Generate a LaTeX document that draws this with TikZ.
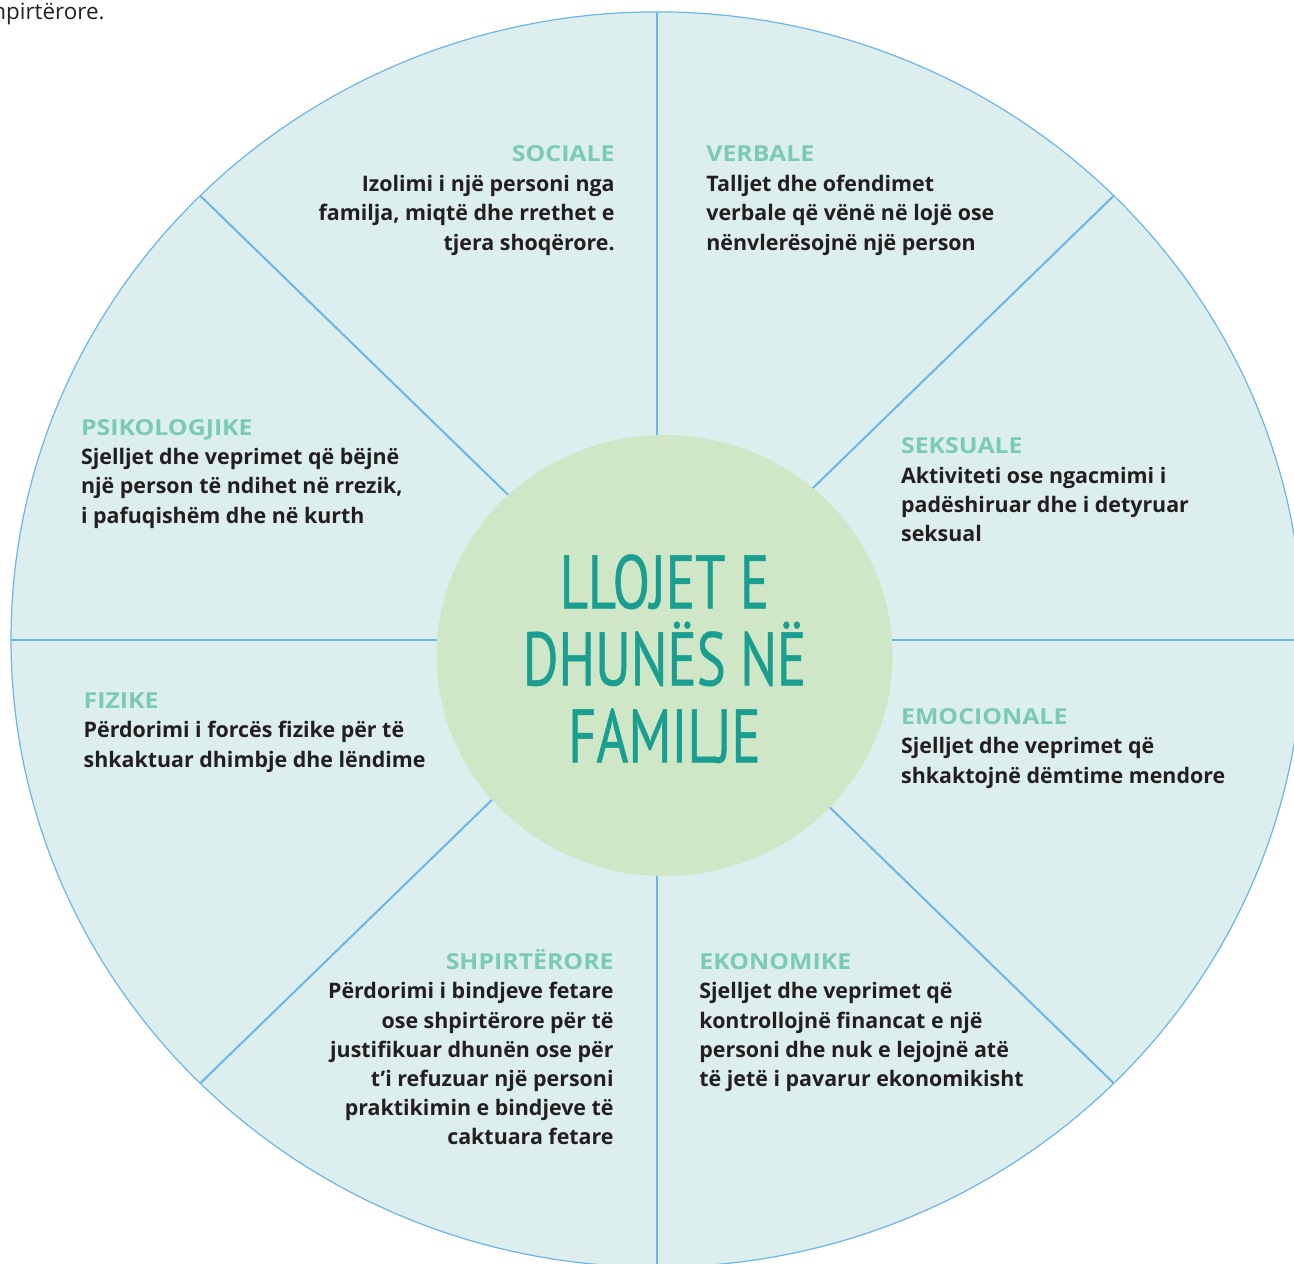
\documentclass[tikz,border=0pt]{standalone}
\usepackage{fontspec}
\setmainfont{Open Sans}
\newfontfamily\headfamily[FakeStretch=1.13]{Open Sans}
\newfontfamily\titlefamily[FakeStretch=0.72,FakeBold=0.6]{PT Sans}
\usetikzlibrary{positioning}
\definecolor{ringfill}{HTML}{DCEFEE}
\definecolor{spoke}{HTML}{6CB5E5}
\definecolor{hubfill}{HTML}{CFE6C7}
\definecolor{titlecol}{HTML}{1A9E8F}
\definecolor{headcol}{HTML}{7BCAB5}
\definecolor{bodycol}{HTML}{231F20}
\newcommand{\headfont}{\headfamily\bfseries\fontsize{11}{14.6}\selectfont}
\newcommand{\bodyfont}{\bfseries\fontsize{10.7}{14.6}\selectfont}
\newcommand{\titlefont}{\titlefamily\fontsize{37.9}{38.5}\selectfont\lineskiplimit=-100pt}
\tikzset{
    spokeline/.style = {draw=spoke, line width=1pt},
    head/.style = {font=\headfont, text=headcol, inner sep=0pt},
    textl/.style = {font=\bodyfont, text=bodycol, inner sep=0pt, align=left},
    textr/.style = {font=\bodyfont, text=bodycol, inner sep=0pt, align=right},
    pagetext/.style = {font=\fontsize{11.2}{14}\selectfont, text=bodycol, inner sep=0pt}
}

\begin{document}
\begin{tikzpicture}[x=0.5pt, y=-0.5pt]
    \useasboundingbox (0,0) rectangle (1294,1263);
    \clip (0,0) rectangle (1294,1263);
    % end of the paragraph above the wheel
    \node [pagetext, anchor=base east] (prev) at (105,20) {shpirtërore.};
    % the wheel
    \path [fill=ringfill, draw=spoke, line width=0.6pt] (657,639.5) ellipse [x radius=646, y radius=627.6];
    \coordinate (rimN)  at (657,12);
    \coordinate (rimS)  at (657,1270);
    \coordinate (rimW)  at (11,640);
    \coordinate (rimE)  at (1303,640);
    \coordinate (rimNW) at (200.2,195.7);
    \coordinate (rimSE) at (1113.8,1083.3);
    \coordinate (rimNE) at (1113.8,195.7);
    \coordinate (rimSW) at (200.2,1083.3);
    \draw [spokeline] (rimN) -- (rimS);
    \draw [spokeline] (rimW) -- (rimE);
    \draw [spokeline] (rimNW) -- (rimSE);
    \draw [spokeline] (rimNE) -- (rimSW);
    \fill [hubfill] (664.5,655.5) ellipse [x radius=228, y radius=220.5];
    \node [font=\titlefont, text=titlecol, align=center, inner sep=0pt, anchor=north] (title) at (664.5,554) {\rule{0pt}{26.95pt}LLOJET E\\DHUNËS NË\\FAMILJE};

    % the eight kinds
    \node [head, anchor=base east] (sociale) at (615,162) {SOCIALE};
    \node [textr, below=4.4pt of sociale.base east, anchor=north east] (socialetxt) {\strut Izolimi i një personi nga\\familja, miqtë dhe rrethet e\\tjera shoqërore.};
    \node [head, anchor=base west] (verbale) at (706,162) {VERBALE};
    \node [textl, below=4.4pt of verbale.base west, anchor=north west] (verbaletxt) {\strut Talljet dhe ofendimet\\verbale që vënë në lojë ose\\nënvlerësojnë një person};
    \node [head, anchor=base west] (psiko) at (80.7,435) {PSIKOLOGJIKE};
    \node [textl, below=4.4pt of psiko.base west, anchor=north west] (psikotxt) {\strut Sjelljet dhe veprimet që bëjnë\\një person të ndihet në rrezik,\\i pafuqishëm dhe në kurth};
    \node [head, anchor=base west] (seksuale) at (900.7,453.5) {SEKSUALE};
    \node [textl, below=4.4pt of seksuale.base west, anchor=north west] (seksualetxt) {\strut Aktiviteti ose ngacmimi i\\padëshiruar dhe i detyruar\\seksual};
    \node [head, anchor=base west] (fizike) at (83.3,708.3) {FIZIKE};
    \node [textl, below=4.4pt of fizike.base west, anchor=north west] (fiziketxt) {\strut Përdorimi i forcës fizike për të\\shkaktuar dhimbje dhe lëndime};
    \node [head, anchor=base west] (emocionale) at (900.7,724.3) {EMOCIONALE};
    \node [textl, below=4.4pt of emocionale.base west, anchor=north west] (emocionaletxt) {\strut Sjelljet dhe veprimet që\\shkaktojnë dëmtime mendore};
    \node [head, anchor=base east] (shpirterore) at (614,969.3) {SHPIRTËRORE};
    \node [textr, below=4.4pt of shpirterore.base east, anchor=north east] (shpirteroretxt) {\strut Përdorimi i bindjeve fetare\\ose shpirtërore për të\\justifikuar dhunën ose për\\t’i refuzuar një personi\\praktikimin e bindjeve të\\caktuara fetare};
    \node [head, anchor=base west] (ekonomike) at (699,969.3) {EKONOMIKE};
    \node [textl, below=4.4pt of ekonomike.base west, anchor=north west] (ekonomiketxt) {\strut Sjelljet dhe veprimet që\\kontrollojnë financat e një\\personi dhe nuk e lejojnë atë\\të jetë i pavarur ekonomikisht};
\end{tikzpicture}
\end{document}
